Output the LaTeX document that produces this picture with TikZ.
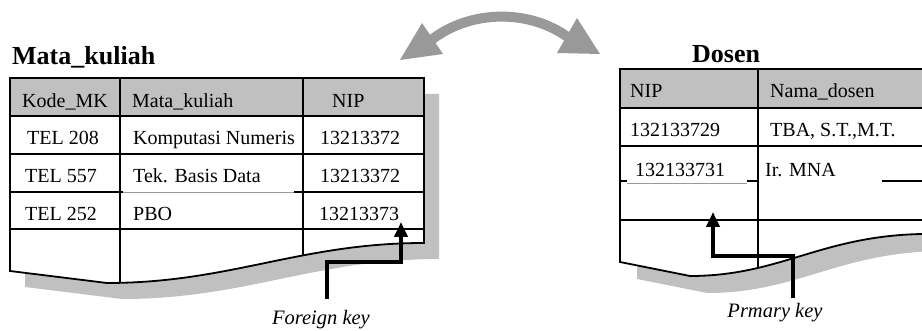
\documentclass[tikz,border=0pt]{standalone}
\usepackage{fontspec}
\setmainfont{Liberation Serif}
\usetikzlibrary{arrows.meta}

\definecolor{headgray}{HTML}{C0C0C0}
\definecolor{shadowgray}{HTML}{C0C0C0}
\definecolor{swapgray}{HTML}{999999}
\definecolor{faintline}{HTML}{9A9A9A}

\tikzset{
  cell/.style={anchor=base west, inner sep=0pt, font=\fontsize{20}{24}\selectfont},
  tabletitle/.style={anchor=base west, inner sep=0pt, font=\fontsize{26}{30}\selectfont\bfseries},
  keylabel/.style={anchor=base, inner sep=0pt, font=\fontsize{20.5}{24}\selectfont\itshape},
  frame/.style={line width=1.8pt},
  grid/.style={line width=1.3pt},
  thingrid/.style={line width=0.6pt, faintline},
  pointer/.style={line width=4pt, -{Triangle[length=15pt,width=13pt]}},
  shadowfill/.style={fill=shadowgray},
}

\begin{document}
\begin{tikzpicture}[x=1pt,y=-1pt]
\useasboundingbox (0,0) rectangle (922,331);
\clip (0,0) rectangle (922,331);

% ---------- table outlines ----------
\def\mkpath{(10,78) -- (424,78) -- (424,243) .. controls (300,243) and (230,283) .. (107,283) -- (10,271) -- cycle}
\def\dspath{(620,69) -- (960,69) -- (960,233) -- (922,234) .. controls (820,236) and (780,276) .. (690,276) -- (620,262) -- cycle}

% ---------- Mata_kuliah table ----------
\fill[shadowfill, shift={(15,16)}] \mkpath;
\fill[white] \mkpath;
\begin{scope}
  \clip \mkpath;
  \fill[headgray] (10,78) rectangle (424,116);
  \draw[grid] (10,116) -- (424,116);
  \draw[grid] (10,154) -- (424,154);
  \draw[grid] (10,192) -- (123,192);
  \draw[thingrid] (123,192.5) -- (294,192.5);
  \draw[grid] (294,192) -- (424,192);
  \draw[grid] (10,229) -- (424,229);
  \draw[grid] (120,70) -- (120,300);
  \draw[grid] (303,70) -- (303,300);
\end{scope}
\draw[frame] \mkpath;

\node[tabletitle] (mktitle) at (12,65) {Mata\_kuliah};
\node[cell] (mkh1) at (22,108) {Kode\_MK};
\node[cell] (mkh2) at (132,108) {Mata\_kuliah};
\node[cell] (mkh3) at (332,108) {NIP};
\node[cell] (mka1) at (27,145) {TEL 208};
\node[cell] (mka2) at (133,145) {Komputasi Numeris};
\node[cell] (mka3) at (320,145) {13213372};
\node[cell] (mkb1) at (25,183) {TEL 557};
\node[cell] (mkb2) at (133,183) {Tek. Basis Data};
\node[cell] (mkb3) at (320,183) {13213372};
\node[cell] (mkc1) at (25,221) {TEL 252};
\node[cell] (mkc2) at (133,221) {PBO};
\node[cell] (mkc3) at (319,221) {13213373};

% ---------- Dosen table ----------
\fill[shadowfill, shift={(17,17)}] \dspath;
\fill[white] \dspath;
\begin{scope}
  \clip \dspath;
  \fill[headgray] (620,69) rectangle (960,108);
  \draw[grid] (620,108) -- (960,108);
  \draw[grid] (620,146) -- (960,146);
  \draw[grid] (620,181) -- (627,181);
  \draw[thingrid] (627,183) -- (747,183);
  \draw[grid] (747,181) -- (758,181);
  \draw[grid] (882,181) -- (960,181);
  \draw[grid] (620,220) -- (960,220);
  \draw[grid] (758,60) -- (758,300);
\end{scope}
\draw[frame] \dspath;

\node[tabletitle] (dstitle) at (692,63) {Dosen};
\node[cell] (dsh1) at (630,98) {NIP};
\node[cell] (dsh2) at (770,98) {Nama\_dosen};
\node[cell] (dsa1) at (630,137) {132133729};
\node[cell] (dsa2) at (770,137) {TBA, S.T.,M.T.};
\node[cell] (dsb1) at (635,177) {132133731};
\node[cell] (dsb2) at (765,177) {Ir. MNA};

% ---------- key pointers ----------
\node[keylabel] (fklabel) at (321,325) {Foreign key};
\node[keylabel] (pklabel) at (775,318) {Prmary key};

\coordinate (fkstart) at (327,299);
\coordinate (fktip) at (401,222);
\draw[pointer] (fkstart) -- (327,262) -| (fktip);

\coordinate (pkstart) at (793,298);
\coordinate (pktip) at (713,212);
\draw[pointer] (pkstart) -- (793,256) -| (pktip);

% ---------- two-way relation arrow ----------
\coordinate (swapL) at (400,60);
\coordinate (swapR) at (600,54);
\draw[swapgray, line width=10pt] (430,41) .. controls (470,9) and (530,9) .. (569,38);
\fill[swapgray] (swapL) -- (422,23) -- (443,54) -- cycle;
\fill[swapgray] (577,18) -- (swapR) -- (557,53) -- cycle;
\end{tikzpicture}
\end{document}
